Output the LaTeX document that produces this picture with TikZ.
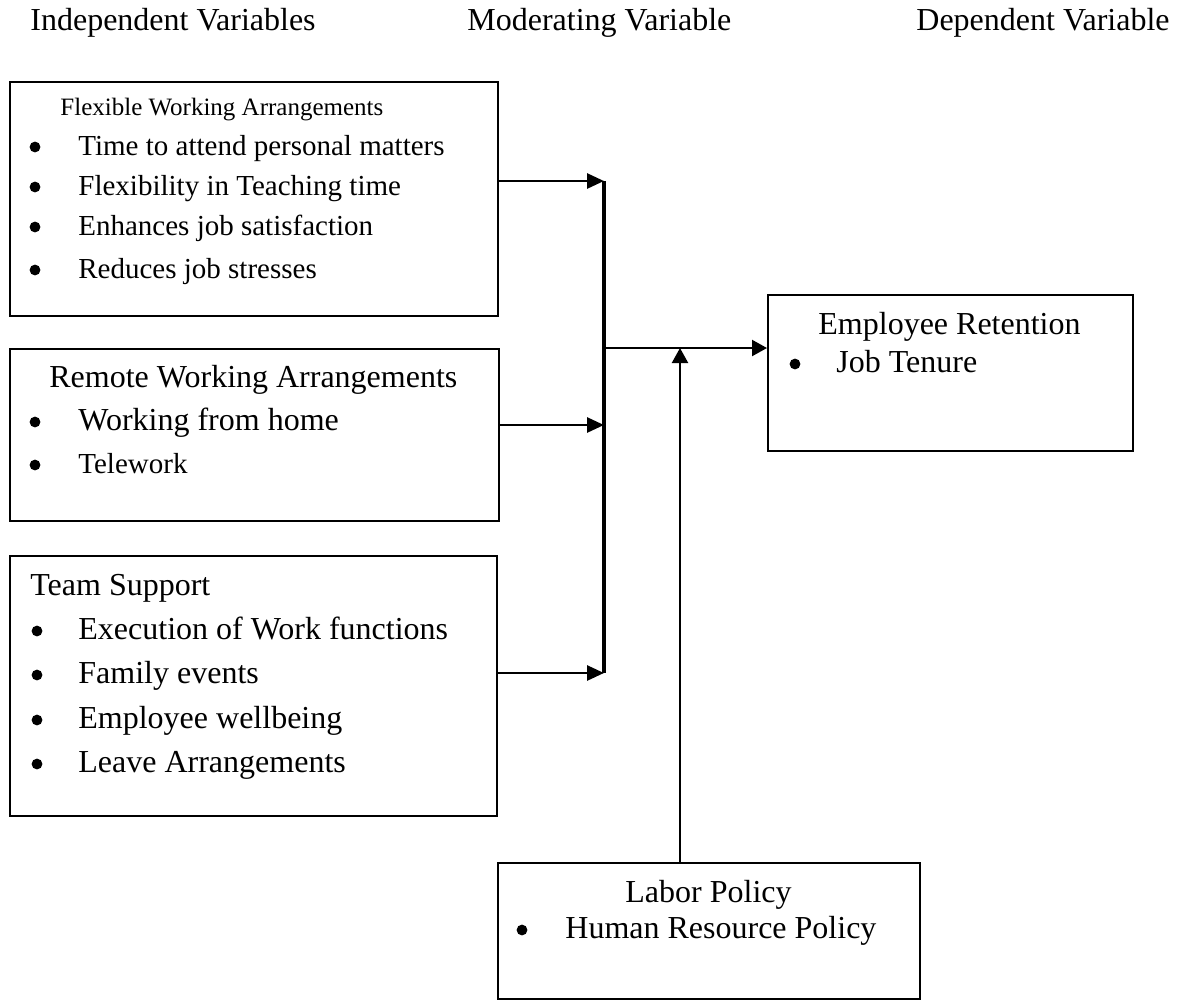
\documentclass[tikz,border=0pt]{standalone}
\usepackage{fontspec}
\setmainfont{Liberation Serif}
\usetikzlibrary{arrows.meta}
\begin{document}
\begin{tikzpicture}[x=0.5pt,y=-0.5pt,
  box/.style={draw, line width=0.9pt, anchor=north west, inner sep=0pt},
  txt/.style={anchor=base west, inner sep=0pt, font=\fontsize{16}{19}\selectfont},
  smalltxt/.style={txt, font=\fontsize{14.5}{17}\selectfont},
  tinytxt/.style={txt, font=\fontsize{12.5}{15}\selectfont},
  dot/.style={circle, fill, inner sep=0pt, minimum size=5.4pt},
  feed/.style={line width=1.4pt, -{Triangle[length=8.5pt,width=7.5pt]}},
  bus/.style={line width=1.6pt},
  link/.style={line width=1.1pt, -{Triangle[length=7.5pt,width=8pt]}}]

\useasboundingbox (0,0) rectangle (1184,1003);

% column headings
\node[txt] (hdrInd) at (30,30) {Independent Variables};
\node[txt] (hdrMod) at (467,30) {Moderating Variable};
\node[txt] (hdrDep) at (916,30) {Dependent Variable};

% flexible working arrangements
\node[box, minimum width=244pt, minimum height=117pt] (flex) at (9,81) {};
\node[tinytxt] (flexT) at (60,115) {Flexible Working Arrangements};
\node[dot] (fb1) at (35,147) {};
\node[smalltxt] (ft1) at (78,155) {Time to attend personal matters};
\node[dot] (fb2) at (35,187) {};
\node[smalltxt] (ft2) at (78,195) {Flexibility in Teaching time};
\node[dot] (fb3) at (35,227) {};
\node[smalltxt] (ft3) at (78,235) {Enhances job satisfaction};
\node[dot] (fb4) at (35,270) {};
\node[smalltxt] (ft4) at (78,278) {Reduces job stresses};

% remote working arrangements
\node[box, minimum width=244.5pt, minimum height=86pt] (remote) at (9,348) {};
\node[txt] (remT) at (49,387) {Remote Working Arrangements};
\node[dot] (rb1) at (35,422) {};
\node[txt] (rt1) at (78,430) {Working from home};
\node[dot] (rb2) at (35,465) {};
\node[smalltxt] (rt2) at (78,473) {Telework};

% team support
\node[box, minimum width=243.5pt, minimum height=130pt] (team) at (9,555) {};
\node[txt] (teamT) at (30,595) {Team Support};
\node[dot] (tb1) at (37,631) {};
\node[txt] (tt1) at (78,639) {Execution of Work functions};
\node[dot] (tb2) at (37,675) {};
\node[txt] (tt2) at (78,683) {Family events};
\node[dot] (tb3) at (37,720) {};
\node[txt] (tt3) at (78,728) {Employee wellbeing};
\node[dot] (tb4) at (37,764) {};
\node[txt] (tt4) at (78,772) {Leave Arrangements};

% employee retention
\node[box, minimum width=182.5pt, minimum height=78pt] (ret) at (767,294) {};
\node[txt] (retT) at (818,334) {Employee Retention};
\node[dot] (eb1) at (795,364) {};
\node[txt] (et1) at (836,372) {Job Tenure};

% labor policy
\node[box, minimum width=211pt, minimum height=68pt] (labor) at (497,862) {};
\node[txt] (labT) at (625,902) {Labor Policy};
\node[dot] (lb1) at (522,930) {};
\node[txt] (lt1) at (565,938) {Human Resource Policy};

% junction points
\coordinate (j1) at (604,181);
\coordinate (j2) at (604,425);
\coordinate (j3) at (604,673);
\coordinate (hub) at (604,348);
\coordinate (mod) at (680,348);

% connectors
\draw[feed] (flex.east |- j1) -- (j1);
\draw[feed] (remote.east |- j2) -- (j2);
\draw[feed] (team.east |- j3) -- (j3);
\draw[bus] (j1) -- (j3);
\draw[link] (hub) -- (ret.west |- hub);
\draw[link] (labor.north -| mod) -- (mod);
\end{tikzpicture}
\end{document}
